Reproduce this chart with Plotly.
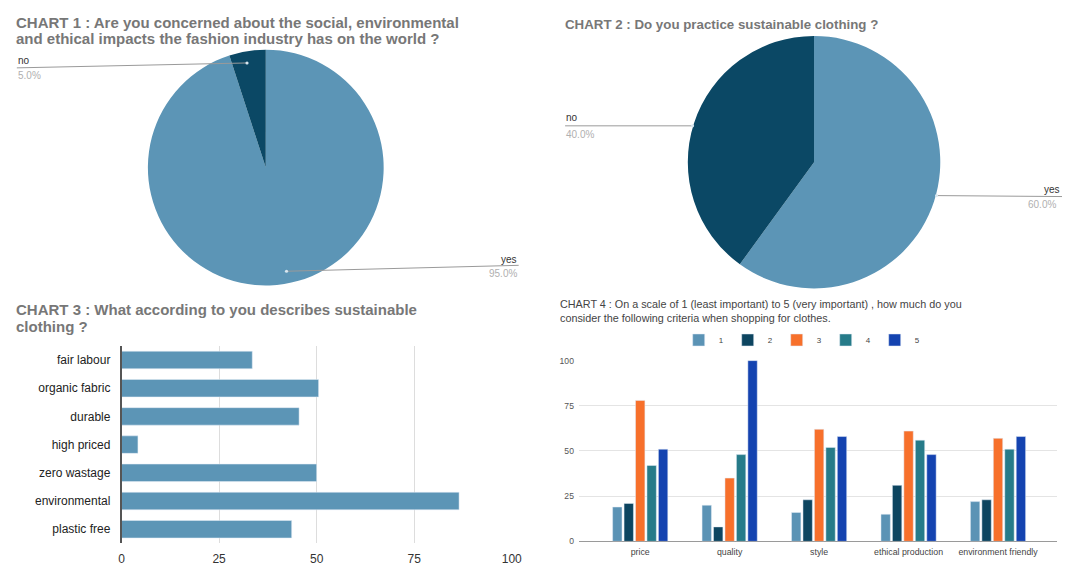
import plotly.graph_objects as go

W, H = 1072, 567

# ---------------- data ----------------
pie1_labels = ["yes", "no"]
pie1_values = [95, 5]
pie2_labels = ["yes", "no"]
pie2_values = [60, 40]

c3_categories = ["fair labour", "organic fabric", "durable", "high priced",
                 "zero wastage", "environmental", "plastic free"]
c3_values = [33.5, 50.5, 45.5, 4.2, 50, 86.5, 43.6]
c3_ticks = [0, 25, 50, 75, 100]

c4_categories = ["price", "quality", "style", "ethical production", "environment friendly"]
c4_series_names = ["1", "2", "3", "4", "5"]
c4_s1 = [19, 20, 16, 15, 22]
c4_s2 = [21, 8, 23, 31, 23]
c4_s3 = [78, 35, 62, 61, 57]
c4_s4 = [42, 48, 52, 56, 51]
c4_s5 = [51, 100, 58, 48, 58]
c4_ticks = [0, 25, 50, 75, 100]

# ---------------- style ----------------
FONT = "Arial, 'Liberation Sans', sans-serif"
LIGHT = "#5c95b6"
DARK = "#0b4865"
C4_COLORS = ["#5b93b5", "#0d4560", "#f7702b", "#267b89", "#1443b0"]


def px(x):
    return x / W


def py(y):
    return 1 - y / H


fig = go.Figure()

# Chart 1 pie
fig.add_trace(go.Pie(
    labels=pie1_labels, values=pie1_values, sort=False, direction="clockwise",
    rotation=0, marker=dict(colors=[LIGHT, DARK], line=dict(width=0)),
    textinfo="none", showlegend=False, hoverinfo="label+percent",
    domain=dict(x=[px(146), px(386)], y=[py(285.5), py(45.5)]),
))

# Chart 2 pie
fig.add_trace(go.Pie(
    labels=pie2_labels, values=pie2_values, sort=False, direction="clockwise",
    rotation=0, marker=dict(colors=[LIGHT, DARK], line=dict(width=0)),
    textinfo="none", showlegend=False, hoverinfo="label+percent",
    domain=dict(x=[px(692.5), px(949.5)], y=[py(288.5), py(31.5)]),
))

# Chart 3 horizontal bars
fig.add_trace(go.Bar(
    y=c3_categories, x=c3_values, orientation="h", marker_color=LIGHT,
    width=0.62, showlegend=False, xaxis="x", yaxis="y",
))

# Chart 4 grouped bars
for name, vals, col in zip(c4_series_names, [c4_s1, c4_s2, c4_s3, c4_s4, c4_s5], C4_COLORS):
    fig.add_trace(go.Bar(
        x=c4_categories, y=vals, name=name, marker_color=col,
        xaxis="x2", yaxis="y2",
    ))

annotations = []


def txt(x, y, text, size, color, anchor="left", bold=False):
    annotations.append(dict(
        x=px(x), y=py(y), xref="paper", yref="paper", text=("<b>%s</b>" % text) if bold else text,
        showarrow=False, xanchor=anchor, yanchor="middle",
        font=dict(family=FONT, size=size, color=color),
    ))


# Titles
txt(11, 18, "CHART 1 : Are you concerned about the social, environmental", 15, "#777777", bold=True)
txt(11, 34, "and ethical impacts the fashion industry has on the world ?", 15, "#777777", bold=True)
txt(567, 20, "CHART 2 : Do you practice sustainable clothing ?", 13.3, "#777777", bold=True)
txt(11, 310, "CHART 3 : What according to you describes sustainable", 15, "#777777", bold=True)
txt(11, 327, "clothing ?", 15, "#777777", bold=True)
txt(562, 304, "CHART 4 : On a scale of 1 (least important) to 5 (very important) , how much do you", 10.8, "#444444")
txt(562, 319, "consider the following criteria when shopping for clothes.", 10.8, "#444444")

# Pie labels
txt(13, 57, "no", 10, "#333333")
txt(13, 72, "5.0%", 10, "#b0b0b0")
txt(522, 259, "yes", 10, "#333333", anchor="right")
txt(522, 273, "95.0%", 10, "#b0b0b0", anchor="right")
txt(568, 115, "no", 10, "#333333")
txt(568, 132, "40.0%", 10, "#b0b0b0")
txt(1052, 188, "yes", 10, "#333333")
txt(1036, 203, "60.0%", 10, "#b0b0b0")

shapes = []


def leader(x0, y0, x1, y1):
    shapes.append(dict(type="line", xref="paper", yref="paper",
                       x0=px(x0), y0=py(y0), x1=px(x1), y1=py(y1),
                       line=dict(color="#9a9a9a", width=1)))


def dot(x, y):
    r = 1.6
    shapes.append(dict(type="circle", xref="paper", yref="paper",
                       x0=px(x - r), x1=px(x + r), y0=py(y + r), y1=py(y - r),
                       fillcolor="#d8e6ef", line=dict(width=0)))


leader(14, 64, 247, 59); dot(247, 59)
leader(287, 271, 522, 265); dot(287, 271)
leader(569, 123, 698, 123); dot(698, 123)
leader(945, 194, 1072, 195); dot(945, 194)

fig.update_layout(
    width=W, height=H,
    margin=dict(l=0, r=0, t=0, b=0),
    paper_bgcolor="white", plot_bgcolor="white",
    font=dict(family=FONT),
    barmode="group", bargap=0.36, bargroupgap=0.18,
    annotations=annotations, shapes=shapes,
    legend=dict(orientation="h", x=px(808), y=py(341), xanchor="center", yanchor="middle",
                font=dict(size=8, color="#444444"), itemwidth=30, entrywidth=4,
                entrywidthmode="pixels", bgcolor="rgba(0,0,0,0)"),
    xaxis=dict(domain=[px(120), px(515)], range=[0, 100], tickvals=c3_ticks,
               showgrid=True, gridcolor="#dddddd", gridwidth=1, zeroline=False,
               showline=False, ticks="", ticklabelstandoff=7,
               tickfont=dict(size=12, color="#333333"), anchor="y", fixedrange=True),
    yaxis=dict(domain=[py(548), py(347)], type="category", autorange="reversed",
               categoryorder="array", categoryarray=c3_categories,
               showline=True, linecolor="#555555", linewidth=1.5, ticks="",
               ticklabelstandoff=7, showgrid=False,
               tickfont=dict(size=12, color="#222222"), anchor="x"),
    xaxis2=dict(domain=[px(583), px(1067)], type="category", range=[-0.685, 4.66],
                categoryorder="array", categoryarray=c4_categories,
                showline=False, ticks="", showgrid=False, ticklabelstandoff=4,
                tickfont=dict(size=8.8, color="#444444"), anchor="y2"),
    yaxis2=dict(domain=[py(546), py(362)], range=[0, 100], tickvals=c4_ticks,
                showgrid=True, gridcolor="#e4e4e4", zeroline=True, zerolinecolor="#9a9a9a",
                zerolinewidth=1, showline=False, ticks="", ticklabelstandoff=4,
                tickfont=dict(size=8.6, color="#555555"), anchor="x2"),
)

# Remove the browser's default body margin so the figure sits at the page origin.
fig.write_html(
    "out.html",
    config={"displayModeBar": False},
    post_script="document.body.style.margin='0';document.body.style.overflow='hidden';",
)
